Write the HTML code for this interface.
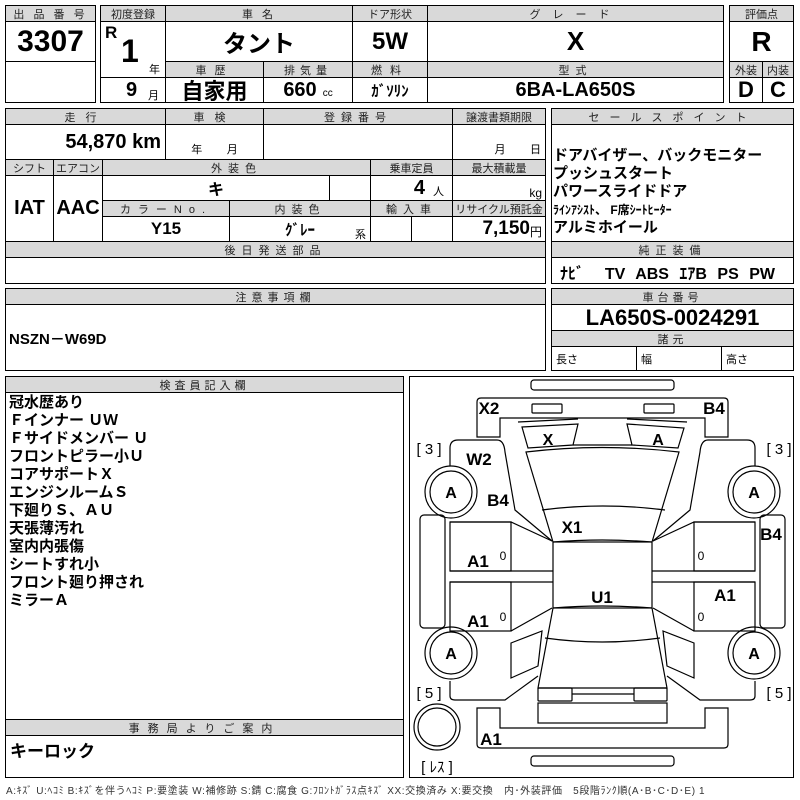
<!DOCTYPE html>
<html><head><meta charset="utf-8"><style>
body{margin:0;background:#fff;width:800px;height:800px;position:relative;overflow:hidden;font-family:"Liberation Sans","Noto Sans CJK JP",sans-serif;color:#000}
.c{position:absolute;box-sizing:border-box;border:1px solid #000;display:flex;align-items:center;justify-content:center;white-space:nowrap}
.h{background:#d9d9d9;font-size:11px;letter-spacing:3px;color:#222}
.v{font-weight:bold;font-family:"Liberation Sans Narrow","Liberation Sans","Noto Sans CJK JP",sans-serif}
.t{position:absolute;white-space:nowrap}
.o{position:absolute;box-sizing:border-box;border:1.5px solid #000}
</style></head><body>
<div class="o" style="left:5px;top:5px;width:91px;height:98px"></div>
<div class="c h" style="left:5px;top:5px;width:91px;height:17px">出 品 番 号</div>
<div class="c v" style="left:5px;top:21px;width:91px;height:41px;font-size:30px">3307</div>
<div class="o" style="left:100px;top:5px;width:624px;height:98px"></div>
<div class="c h" style="left:100px;top:5px;width:66px;height:17px;letter-spacing:0">初度登録</div>
<div class="c h" style="left:165px;top:5px;width:188px;height:17px">車 名</div>
<div class="c h" style="left:352px;top:5px;width:76px;height:17px;letter-spacing:0">ドア形状</div>
<div class="c h" style="left:427px;top:5px;width:297px;height:17px;letter-spacing:12px">グレード</div>
<div class="c" style="left:100px;top:21px;width:66px;height:57px"></div>
<div class="t v" style="left:105px;top:23px;font-size:17px">R</div>
<div class="t v" style="left:121px;top:33px;font-size:32px">1</div>
<div class="t" style="left:149px;top:61px;font-size:11px">年</div>
<div class="c v" style="left:165px;top:21px;width:188px;height:41px;font-size:24px">タント</div>
<div class="c v" style="left:352px;top:21px;width:76px;height:41px;font-size:24px">5W</div>
<div class="c v" style="left:427px;top:21px;width:297px;height:41px;font-size:26px">X</div>
<div class="c h" style="left:165px;top:61px;width:99px;height:17px;letter-spacing:8px">車歴</div>
<div class="c h" style="left:263px;top:61px;width:90px;height:17px;letter-spacing:5px">排気量</div>
<div class="c h" style="left:352px;top:61px;width:76px;height:17px;letter-spacing:8px">燃料</div>
<div class="c h" style="left:427px;top:61px;width:297px;height:17px;letter-spacing:6px">型式</div>
<div class="c" style="left:100px;top:77px;width:66px;height:26px"></div>
<div class="t v" style="left:126px;top:79px;font-size:20px">9</div>
<div class="t" style="left:148px;top:87px;font-size:11px">月</div>
<div class="c v" style="left:165px;top:77px;width:99px;height:26px;font-size:22px">自家用</div>
<div class="c" style="left:263px;top:77px;width:90px;height:26px"><span class="v" style="font-size:20px">660</span><span style="font-size:10px;margin:6px 0 0 6px">cc</span></div>
<div class="c v" style="left:352px;top:77px;width:76px;height:26px;font-size:15px">ｶﾞｿﾘﾝ</div>
<div class="c v" style="left:427px;top:77px;width:297px;height:26px;font-size:20px">6BA-LA650S</div>
<div class="o" style="left:729px;top:5px;width:65px;height:98px"></div>
<div class="c h" style="left:729px;top:5px;width:65px;height:17px;letter-spacing:0">評価点</div>
<div class="c v" style="left:729px;top:21px;width:65px;height:41px;font-size:28px">R</div>
<div class="c h" style="left:729px;top:61px;width:34px;height:17px;letter-spacing:0">外装</div>
<div class="c h" style="left:762px;top:61px;width:32px;height:17px;letter-spacing:0">内装</div>
<div class="c v" style="left:729px;top:77px;width:34px;height:26px;font-size:22px">D</div>
<div class="c v" style="left:762px;top:77px;width:32px;height:26px;font-size:22px">C</div>
<div class="o" style="left:5px;top:108px;width:541px;height:176px"></div>
<div class="c h" style="left:5px;top:108px;width:161px;height:17px;letter-spacing:10px">走行</div>
<div class="c h" style="left:165px;top:108px;width:99px;height:17px;letter-spacing:10px">車検</div>
<div class="c h" style="left:263px;top:108px;width:190px;height:17px;letter-spacing:6px">登録番号</div>
<div class="c h" style="left:452px;top:108px;width:94px;height:17px;letter-spacing:0">譲渡書類期限</div>
<div class="c" style="left:5px;top:124px;width:161px;height:36px;justify-content:flex-end;padding-right:4px"><span class="v" style="font-size:20px">54,870 km</span></div>
<div class="c" style="left:165px;top:124px;width:99px;height:36px;align-items:flex-end;font-size:11px;padding-bottom:2px">年&nbsp;&nbsp;&nbsp;&nbsp;&nbsp;&nbsp;&nbsp;&nbsp;月</div>
<div class="c" style="left:263px;top:124px;width:190px;height:36px"></div>
<div class="c" style="left:452px;top:124px;width:94px;height:36px;align-items:flex-end;justify-content:flex-end;font-size:11px;padding:0 4px 2px 0">月&nbsp;&nbsp;&nbsp;&nbsp;&nbsp;&nbsp;&nbsp;&nbsp;日</div>
<div class="c h" style="left:5px;top:159px;width:49px;height:17px;letter-spacing:0">シフト</div>
<div class="c h" style="left:53px;top:159px;width:50px;height:17px;letter-spacing:0">エアコン</div>
<div class="c h" style="left:102px;top:159px;width:269px;height:17px;letter-spacing:6px">外装色</div>
<div class="c h" style="left:370px;top:159px;width:83px;height:17px;letter-spacing:0">乗車定員</div>
<div class="c h" style="left:452px;top:159px;width:94px;height:17px;letter-spacing:0">最大積載量</div>
<div class="c v" style="left:5px;top:175px;width:49px;height:67px;font-size:20px">IAT</div>
<div class="c v" style="left:53px;top:175px;width:50px;height:67px;font-size:20px">AAC</div>
<div class="c v" style="left:102px;top:175px;width:228px;height:26px;font-size:16px">キ</div>
<div class="c" style="left:329px;top:175px;width:42px;height:26px"></div>
<div class="c" style="left:370px;top:175px;width:83px;height:26px;justify-content:flex-end;padding-right:8px"><span class="v" style="font-size:20px">4</span><span style="font-size:11px;margin:5px 0 0 8px">人</span></div>
<div class="c" style="left:452px;top:175px;width:94px;height:26px;justify-content:flex-end;padding-right:3px;font-size:12px;align-items:flex-end">kg</div>
<div class="c h" style="left:102px;top:200px;width:128px;height:17px;letter-spacing:7px">カラーNo.</div>
<div class="c h" style="left:229px;top:200px;width:142px;height:17px;letter-spacing:6px">内装色</div>
<div class="c h" style="left:370px;top:200px;width:83px;height:17px;letter-spacing:6px">輸入車</div>
<div class="c h" style="left:452px;top:200px;width:94px;height:17px;letter-spacing:0">リサイクル預託金</div>
<div class="c v" style="left:102px;top:216px;width:128px;height:26px;font-size:17px">Y15</div>
<div class="c" style="left:229px;top:216px;width:142px;height:26px"><span class="v" style="font-size:15px">ｸﾞﾚｰ</span></div>
<div class="t" style="left:355px;top:226px;font-size:11px">系</div>
<div class="c" style="left:370px;top:216px;width:42px;height:26px"></div>
<div class="c" style="left:411px;top:216px;width:42px;height:26px"></div>
<div class="c" style="left:452px;top:216px;width:94px;height:26px;justify-content:flex-end;padding-right:3px"><span class="v" style="font-size:19px">7,150</span><span style="font-size:12px;margin-top:4px">円</span></div>
<div class="c h" style="left:5px;top:241px;width:541px;height:17px;letter-spacing:6px">後日発送部品</div>
<div class="o" style="left:551px;top:108px;width:243px;height:176px"></div>
<div class="c h" style="left:551px;top:108px;width:243px;height:17px;letter-spacing:10px">セールスポイント</div>
<div class="t" style="left:553px;top:147px;font-size:15px;font-weight:bold;line-height:18px">ドアバイザー、バックモニター<br>プッシュスタート<br>パワースライドドア<br><span style="font-size:12px">ﾗｲﾝｱｼｽﾄ、 F席ｼｰﾄﾋｰﾀｰ</span><br>アルミホイール</div>
<div class="c h" style="left:551px;top:241px;width:243px;height:17px;letter-spacing:6px">純正装備</div>
<div class="t v" style="left:560px;top:260px;font-size:16px;word-spacing:6px">ﾅﾋﾞ&nbsp; TV ABS ｴｱB PS PW</div>
<div class="o" style="left:5px;top:288px;width:541px;height:83px"></div>
<div class="c h" style="left:5px;top:288px;width:541px;height:17px;letter-spacing:5px">注意事項欄</div>
<div class="t v" style="left:9px;top:328px;font-size:15px">NSZN－W69D</div>
<div class="o" style="left:551px;top:288px;width:243px;height:83px"></div>
<div class="c h" style="left:551px;top:288px;width:243px;height:17px;letter-spacing:4px">車台番号</div>
<div class="c v" style="left:551px;top:304px;width:243px;height:27px;font-size:22px">LA650S-0024291</div>
<div class="c h" style="left:551px;top:330px;width:243px;height:17px;letter-spacing:4px">諸元</div>
<div class="c" style="left:551px;top:346px;width:86px;height:25px;justify-content:flex-start;padding-left:4px;font-size:11px">長さ</div>
<div class="c" style="left:636px;top:346px;width:86px;height:25px;justify-content:flex-start;padding-left:4px;font-size:11px">幅</div>
<div class="c" style="left:721px;top:346px;width:73px;height:25px;justify-content:flex-start;padding-left:4px;font-size:11px">高さ</div>
<div class="o" style="left:5px;top:376px;width:399px;height:402px"></div>
<div class="c h" style="left:5px;top:376px;width:399px;height:17px;letter-spacing:4px">検査員記入欄</div>
<div class="t" style="left:9px;top:394px;font-size:15px;font-weight:bold;line-height:18px">冠水歴あり<br>Ｆインナー ＵＷ<br>Ｆサイドメンバー Ｕ<br>フロントピラー小Ｕ<br>コアサポートＸ<br>エンジンルームＳ<br>下廻りＳ、ＡＵ<br>天張薄汚れ<br>室内内張傷<br>シートすれ小<br>フロント廻り押され<br>ミラーＡ</div>
<div class="c h" style="left:5px;top:719px;width:399px;height:17px;letter-spacing:8px">事務局よりご案内</div>
<div class="t" style="left:10px;top:737px;font-size:17px;font-weight:bold">キーロック</div>
<div class="t" style="left:6px;top:782px;font-size:10px;letter-spacing:0.6px;color:#333">A:ｷｽﾞ U:ﾍｺﾐ B:ｷｽﾞを伴うﾍｺﾐ P:要塗装 W:補修跡 S:錆 C:腐食 G:ﾌﾛﾝﾄｶﾞﾗｽ点ｷｽﾞ XX:交換済み X:要交換　内･外装評価　5段階ﾗﾝｸ順(A･B･C･D･E) 1</div>
<div class="o" style="left:409px;top:376px;width:385px;height:402px"></div>
<svg style="position:absolute;left:0;top:0" width="800" height="800" fill="none" stroke="#000" stroke-width="1.2">
<rect x="531" y="380" width="143" height="10" rx="3"/>
<path d="M477 437 V402 Q477 398 481 398 H724 Q728 398 728 402 V437 H705 V418 H500 V437 Z"/>
<rect x="532" y="404" width="30" height="9" rx="1"/>
<rect x="644" y="404" width="30" height="9" rx="1"/>
<path d="M522 427 L578 424 L573 445 L528 448 Z"/>
<path d="M518 422 L578 419"/><path d="M627 419 L687 422"/>
<path d="M627 424 L684 428 L678 448 L632 445 Z"/>
<path d="M573 445 H632"/>
<path d="M526 452 Q602 443 679 452 L652 542 Q602 538 553 542 Z"/>
<path d="M542 510 Q602 502 665 510"/>
<rect x="553" y="542" width="99" height="66"/>
<path d="M553 608 Q602 604 652 608 L667 688 H538 Z"/>
<path d="M545 638 Q602 646 660 638"/>
<rect x="538" y="688" width="34" height="13" rx="1"/>
<rect x="634" y="688" width="33" height="13" rx="1"/>
<path d="M572 694 H634"/>
<rect x="538" y="703" width="129" height="20"/>
<path d="M477 708 V744 Q477 748 481 748 H724 Q728 748 728 744 V708 H705 V728 H500 V708 Z"/>
<rect x="531" y="756" width="143" height="10" rx="3"/>
<g id="L">
<path d="M450 466 V448 Q450 440 458 440 H497 Q504 440 505 452 L515 510 L552 541"/>
<path d="M450 522 H511 L552 541"/>
<rect x="450" y="522" width="61" height="49"/>
<path d="M450 571 H553 M450 582 H553"/>
<rect x="450" y="582" width="61" height="49"/>
<path d="M511 631 L552 608"/>
<path d="M511 643 L542 631 L538 666 L511 678 Z"/>
<path d="M450 681 V696 Q450 700 455 700 H505 L538 676"/>
<rect x="420" y="515" width="25" height="113" rx="4"/>
<circle cx="451" cy="492" r="26"/><circle cx="451" cy="492" r="21"/>
<circle cx="451" cy="653" r="26"/><circle cx="451" cy="653" r="21"/>
</g>
<use href="#L" transform="translate(1205 0) scale(-1 1)"/>
<circle cx="437" cy="727" r="23"/><circle cx="437" cy="727" r="19"/>
<g fill="#000" stroke="none" font-family="Liberation Sans,sans-serif" font-weight="bold" font-size="17" text-anchor="middle">
<text x="489" y="414">X2</text><text x="714" y="414">B4</text>
<text x="548" y="445" font-size="16">X</text><text x="658" y="445" font-size="16">A</text>
<text x="479" y="465">W2</text><text x="498" y="506">B4</text>
<text x="451" y="498" font-size="16">A</text><text x="754" y="498" font-size="16">A</text>
<text x="451" y="659" font-size="16">A</text><text x="754" y="659" font-size="16">A</text>
<text x="572" y="533">X1</text><text x="771" y="540">B4</text>
<text x="478" y="567">A1</text><text x="478" y="627">A1</text>
<text x="602" y="603">U1</text><text x="725" y="601">A1</text>
<text x="491" y="745">A1</text>
</g>
<g fill="#000" stroke="none" font-family="Liberation Sans,sans-serif" font-size="15" text-anchor="middle">
<text x="429" y="454">[ 3 ]</text><text x="779" y="454">[ 3 ]</text>
<text x="429" y="698">[ 5 ]</text><text x="779" y="698">[ 5 ]</text>
<text x="437" y="772" font-family="Liberation Sans,Noto Sans CJK JP,sans-serif">[ ﾚｽ ]</text>
<text x="503" y="560" font-size="12">0</text><text x="503" y="621" font-size="12">0</text>
<text x="701" y="560" font-size="12">0</text><text x="701" y="621" font-size="12">0</text>
</g>
</svg>
</body></html>
